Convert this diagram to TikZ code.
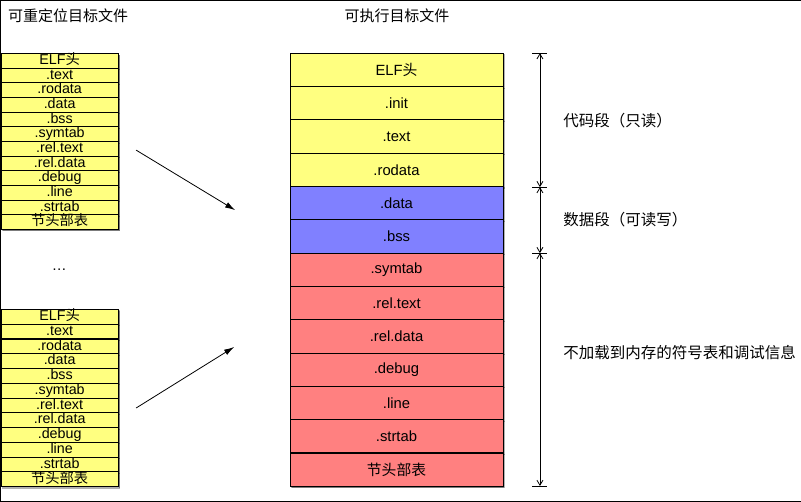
\documentclass[tikz,border=0pt]{standalone}
\usepackage{fontspec}
\setmainfont{Liberation Sans}
\newfontfamily\cjk{Noto Sans CJK SC}
\usetikzlibrary{positioning}
\usetikzlibrary{arrows.meta}
\usetikzlibrary{shadows}
\definecolor{codecol}{RGB}{255,255,128}
\definecolor{datacol}{RGB}{128,128,255}
\definecolor{infocol}{RGB}{255,128,128}
\tikzset{
  every node/.append style={font=\fontsize{14.8}{16}\selectfont},
  every path/.append style={draw=black},
  sect/.style={draw=black, line width=0.9pt, inner sep=0pt, outer sep=0pt,
    drop shadow={shadow xshift=1.5pt, shadow yshift=-1.5pt, opacity=0.3, fill=black}},
  exesect/.style={sect, minimum width=213pt, minimum height=33.33pt},
  relsect/.style={sect, fill=codecol, minimum width=117pt, minimum height=14.7pt,
    text height=10pt, text depth=2.5pt, font=\fontsize{14.3}{15}\selectfont},
  title/.style={font=\cjk\fontsize{15}{17}\selectfont},
  seglabel/.style={anchor=west, font=\cjk\fontsize{15.5}{17}\selectfont}
}
\tikzstyle{arrow} = [line width=0.8pt, -{Latex[length=10pt, width=6pt]}]
\tikzstyle{dim} = [line width=0.8pt, {Straight Barb[length=5pt, width=6pt]}-{Straight Barb[length=5pt, width=6pt]}]
\newcommand\exerow[4]{
  % #1 - Tikz name
  % #2 - y of the centre
  % #3 - fill colour
  % #4 - Body
  \node [exesect, fill=#3] at (396.5,#2) (#1) {#4};
}
\newcommand\dimtick[1]{
  % #1 - coordinate on the dimension line
  \draw [line width=0.8pt] ([xshift=-7.5pt]#1) -- ([xshift=7.5pt]#1);
}

\begin{document}
\begin{tikzpicture}[x=1pt, y=-1pt]
  \useasboundingbox (0,0) rectangle (801,501);

  \node [title] at (68,16) (reltitle) {可重定位目标文件};
  \node [title] at (397,16) (exetitle) {可执行目标文件};

  % first relocatable file
  \node [relsect] at (59.5,60.7) (ra0) {ELF{\cjk 头}};
  \node [relsect] at (59.5,75.3) (ra1) {.text};
  \node [relsect] at (59.5,90.0) (ra2) {.rodata};
  \node [relsect] at (59.5,104.7) (ra3) {.data};
  \node [relsect] at (59.5,119.3) (ra4) {.bss};
  \node [relsect] at (59.5,134.0) (ra5) {.symtab};
  \node [relsect] at (59.5,148.7) (ra6) {.rel.text};
  \node [relsect] at (59.5,163.3) (ra7) {.rel.data};
  \node [relsect] at (59.5,178.0) (ra8) {.debug};
  \node [relsect] at (59.5,192.7) (ra9) {.line};
  \node [relsect] at (59.5,207.3) (ra10) {.strtab};
  \node [relsect] at (59.5,222.0) (ra11) {{\cjk 节头部表}};

  \node at (59,270) (dots) {…};

  % second relocatable file
  \node [relsect] at (59.5,316.7) (rb0) {ELF{\cjk 头}};
  \node [relsect] at (59.5,331.5) (rb1) {.text};
  \node [relsect] at (59.5,346.3) (rb2) {.rodata};
  \node [relsect] at (59.5,361.0) (rb3) {.data};
  \node [relsect] at (59.5,375.8) (rb4) {.bss};
  \node [relsect] at (59.5,390.6) (rb5) {.symtab};
  \node [relsect] at (59.5,405.4) (rb6) {.rel.text};
  \node [relsect] at (59.5,420.2) (rb7) {.rel.data};
  \node [relsect] at (59.5,434.9) (rb8) {.debug};
  \node [relsect] at (59.5,449.7) (rb9) {.line};
  \node [relsect] at (59.5,464.5) (rb10) {.strtab};
  \node [relsect] at (59.5,479.3) (rb11) {{\cjk 节头部表}};

  % executable file
  \exerow{elf}{69.7}{codecol}{ELF{\cjk 头}}
  \exerow{init}{103.0}{codecol}{.init}
  \exerow{text}{136.3}{codecol}{.text}
  \exerow{rodata}{169.7}{codecol}{.rodata}
  \exerow{data}{203.0}{datacol}{.data}
  \exerow{bss}{236.3}{datacol}{.bss}
  \exerow{symtab}{269.7}{infocol}{.symtab}
  \exerow{reltext}{303.0}{infocol}{.rel.text}
  \exerow{reldata}{336.3}{infocol}{.rel.data}
  \exerow{debug}{369.7}{infocol}{.debug}
  \exerow{line}{403.0}{infocol}{.line}
  \exerow{strtab}{436.3}{infocol}{.strtab}
  \exerow{shdr}{469.7}{infocol}{{\cjk 节头部表}}

  % link arrows
  \coordinate (froma) at (136,150);
  \coordinate (toa) at (235,210);
  \coordinate (fromb) at (136,408);
  \coordinate (tob) at (234,347);
  \draw [arrow] (froma) -- (toa);
  \draw [arrow] (fromb) -- (tob);

  % segment dimensions
  \coordinate (d0) at (540,53);
  \coordinate (d1) at (540,187);
  \coordinate (d2) at (540,253);
  \coordinate (d3) at (540,486);
  \dimtick{d0}
  \dimtick{d1}
  \dimtick{d2}
  \dimtick{d3}
  \draw [dim] (d0) -- (d1);
  \draw [dim] (d1) -- (d2);
  \draw [dim] (d2) -- (d3);

  \node [seglabel] at (560,120) (codeseg) {代码段（只读）};
  \node [seglabel] at (560,220) (dataseg) {数据段（可读写）};
  \node [seglabel] at (560,353) (infoseg) {不加载到内存的符号表和调试信息};
\end{tikzpicture}
\end{document}
